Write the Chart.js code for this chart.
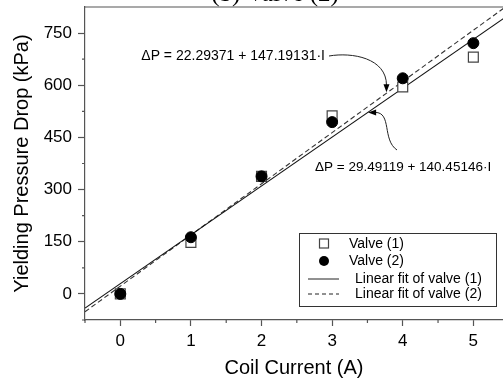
<!DOCTYPE html>
<html>
<head>
<meta charset="utf-8">
<script src="https://cdn.jsdelivr.net/npm/chart.js@4"></script>
<style>
  html, body { margin: 0; padding: 0; background: #fff; }
  #wrap { width: 503px; height: 378px; }
</style>
</head>
<body>
<div id="wrap"><canvas id="chart" width="503" height="378"></canvas></div>
<script>
// values
const currents = [0, 1, 2, 3, 4, 5];
const valve1 = [0, 148, 338, 512, 595, 681];
const valve2 = [0, 163, 338, 494, 620, 721];
// fitted lines, endpoints as given by the printed equations
const fitX = [-0.5, 5.5];
const fit1 = [-40.7, 802.0];   // 29.49119 + 140.45146·I
const fit2 = [-51.3, 831.8];   // 22.29371 + 147.19131·I
const eq1 = 'ΔP = 29.49119 + 140.45146·I';
const eq2 = 'ΔP = 22.29371 + 147.19131·I';
const legendLabels = ['Valve (1)', 'Valve (2)', 'Linear fit of valve (1)', 'Linear fit of valve (2)'];

const FONT = '"Liberation Sans", Arial, sans-serif';
const toPts = (xs, ys) => xs.map((x, i) => ({ x, y: ys[i] }));

// minor ticks are hidden in the axis and drawn shorter here
const minorTicks = {
  id: 'minorTicks',
  afterDraw(chart) {
    const { ctx, chartArea: a, scales } = chart;
    ctx.save();
    ctx.strokeStyle = '#555';
    ctx.lineWidth = 1.2;
    ctx.beginPath();
    scales.x.ticks.forEach(t => {
      if (Number.isInteger(t.value)) return;
      const x = scales.x.getPixelForValue(t.value);
      ctx.moveTo(x, a.bottom);
      ctx.lineTo(x, a.bottom + 3);
    });
    scales.y.ticks.forEach(t => {
      if (t.value % 150 === 0) return;
      const y = scales.y.getPixelForValue(t.value);
      ctx.moveTo(a.left, y);
      ctx.lineTo(a.left - 3, y);
    });
    ctx.stroke();
    ctx.restore();
  }
};

// frame, cut-off title, equations with arrows, legend box
const extras = {
  id: 'extras',
  afterDraw(chart) {
    const { ctx, chartArea: a, scales } = chart;
    const px = v => scales.x.getPixelForValue(v);
    const py = v => scales.y.getPixelForValue(v);
    ctx.save();

    // frame top edge
    ctx.strokeStyle = '#555';
    ctx.lineWidth = 1.2;
    ctx.beginPath();
    ctx.moveTo(a.left, a.top);
    ctx.lineTo(a.right, a.top);
    ctx.stroke();

    // title, mostly cut off by the crop
    ctx.fillStyle = '#000';
    ctx.font = '25px "Liberation Serif", serif';
    ctx.textAlign = 'center';
    ctx.textBaseline = 'alphabetic';
    ctx.fillText('(b) Valve (2)', 275, 1);

    // equation for valve (2)
    ctx.font = '14px ' + FONT;
    ctx.textAlign = 'right';
    ctx.textBaseline = 'middle';
    ctx.fillText(eq2, 325, 56);
    const t1x = px(3.77), t1y = py(580);
    ctx.strokeStyle = '#222';
    ctx.lineWidth = 1;
    ctx.beginPath();
    ctx.moveTo(329, 56);
    ctx.bezierCurveTo(352, 52, t1x, 58, t1x, t1y - 7);
    ctx.stroke();
    ctx.beginPath();
    ctx.moveTo(t1x, t1y);
    ctx.lineTo(t1x - 3, t1y - 8);
    ctx.lineTo(t1x + 3, t1y - 8);
    ctx.closePath();
    ctx.fill();

    // equation for valve (1)
    ctx.font = '13.5px ' + FONT;
    ctx.textAlign = 'left';
    ctx.fillText(eq1, 315, 167);
    const t2x = px(3.51), t2y = py(522);
    ctx.beginPath();
    ctx.moveTo(397, 150);
    ctx.bezierCurveTo(382, 140, 392, t2y, t2x + 7, t2y);
    ctx.stroke();
    ctx.beginPath();
    ctx.moveTo(t2x, t2y);
    ctx.lineTo(t2x + 8, t2y - 3);
    ctx.lineTo(t2x + 8, t2y + 3);
    ctx.closePath();
    ctx.fill();

    // legend
    const lx = 299, ly = 233, lw = 197, lh = 73;
    ctx.fillStyle = '#fff';
    ctx.fillRect(lx, ly, lw, lh);
    ctx.strokeStyle = '#333';
    ctx.lineWidth = 1;
    ctx.strokeRect(lx + 0.5, ly + 0.5, lw, lh);
    const rows = [244, 261, 279, 294];
    ctx.font = '14px ' + FONT;
    ctx.textAlign = 'left';
    ctx.textBaseline = 'middle';
    // square
    ctx.strokeStyle = '#444';
    ctx.lineWidth = 1.2;
    ctx.strokeRect(319.5, rows[0] - 5, 9, 9);
    // circle
    ctx.fillStyle = '#000';
    ctx.beginPath();
    ctx.arc(324, rows[1], 5, 0, Math.PI * 2);
    ctx.fill();
    // solid
    ctx.strokeStyle = '#222';
    ctx.lineWidth = 1;
    ctx.beginPath();
    ctx.moveTo(308, rows[2]);
    ctx.lineTo(339, rows[2]);
    ctx.stroke();
    // dashed
    ctx.setLineDash([4, 3]);
    ctx.beginPath();
    ctx.moveTo(308, rows[3]);
    ctx.lineTo(339, rows[3]);
    ctx.stroke();
    ctx.setLineDash([]);
    ctx.fillStyle = '#000';
    ctx.fillText(legendLabels[0], 349, rows[0]);
    ctx.fillText(legendLabels[1], 349, rows[1]);
    ctx.fillText(legendLabels[2], 355, rows[2]);
    ctx.fillText(legendLabels[3], 355, rows[3]);

    ctx.restore();
  }
};

new Chart(document.getElementById('chart'), {
  type: 'scatter',
  data: {
    datasets: [
      {
        label: legendLabels[0],
        data: toPts(currents, valve1),
        pointStyle: 'rect',
        pointRadius: 7,
        pointBackgroundColor: '#fff',
        pointBorderColor: '#444',
        pointBorderWidth: 1.2,
        showLine: false,
        order: 1
      },
      {
        label: legendLabels[1],
        data: toPts(currents, valve2),
        pointStyle: 'circle',
        pointRadius: 5.5,
        pointBackgroundColor: '#000',
        pointBorderColor: '#000',
        showLine: false,
        order: 0
      },
      {
        label: legendLabels[2],
        data: toPts(fitX, fit1),
        showLine: true,
        pointRadius: 0,
        borderColor: '#111',
        borderWidth: 1.1,
        order: 2
      },
      {
        label: legendLabels[3],
        data: toPts(fitX, fit2),
        showLine: true,
        pointRadius: 0,
        borderColor: '#333',
        borderWidth: 1.1,
        borderDash: [5, 3],
        order: 2
      }
    ]
  },
  options: {
    responsive: false,
    animation: false,
    layout: { autoPadding: false, padding: { top: 7, right: 0, left: 0, bottom: 0 } },
    plugins: { legend: { display: false }, tooltip: { enabled: false }, title: { display: false } },
    scales: {
      x: {
        type: 'linear',
        min: -0.5,
        max: 5.42,
        afterFit: s => {
          s.height = 58;
          s.paddingLeft = 0;
          s.paddingRight = 0;
        },
        afterBuildTicks: s => {
          s.ticks = [];
          for (let v = -0.5; v <= 5.0001; v += 0.5) s.ticks.push({ value: v });
        },
        grid: {
          drawOnChartArea: false,
          tickLength: 6,
          tickWidth: 1.2,
          color: '#555',
          tickColor: c => (c.tick && Number.isInteger(c.tick.value) ? '#555' : 'rgba(0,0,0,0)')
        },
        border: { color: '#555', width: 1.2 },
        ticks: {
          color: '#000',
          font: { family: FONT, size: 17 },
          padding: 5,
          maxRotation: 0,
          autoSkip: false,
          callback: v => (Number.isInteger(v) ? String(v) : '')
        },
        title: {
          display: true,
          text: 'Coil Current (A)',
          color: '#000',
          font: { family: FONT, size: 20 },
          padding: { top: 0, bottom: -2 }
        }
      },
      y: {
        type: 'linear',
        min: -75,
        max: 825,
        afterFit: s => {
          s.width = 85;
          s.paddingTop = 0;
          s.paddingBottom = 0;
        },
        afterBuildTicks: s => {
          s.ticks = [];
          for (let v = -75; v <= 750; v += 75) s.ticks.push({ value: v });
        },
        grid: {
          drawOnChartArea: false,
          tickLength: 7,
          tickWidth: 1.2,
          color: '#555',
          tickColor: c => (c.tick && c.tick.value % 150 === 0 ? '#555' : 'rgba(0,0,0,0)')
        },
        border: { color: '#555', width: 1.2 },
        ticks: {
          color: '#000',
          font: { family: FONT, size: 17 },
          padding: 6,
          autoSkip: false,
          callback: v => (v % 150 === 0 ? String(v) : '')
        },
        title: {
          display: true,
          text: 'Yielding Pressure Drop (kPa)',
          color: '#000',
          font: { family: FONT, size: 20 },
          padding: { top: 10, bottom: 10 }
        }
      }
    }
  },
  plugins: [minorTicks, extras]
});
</script>
</body>
</html>
